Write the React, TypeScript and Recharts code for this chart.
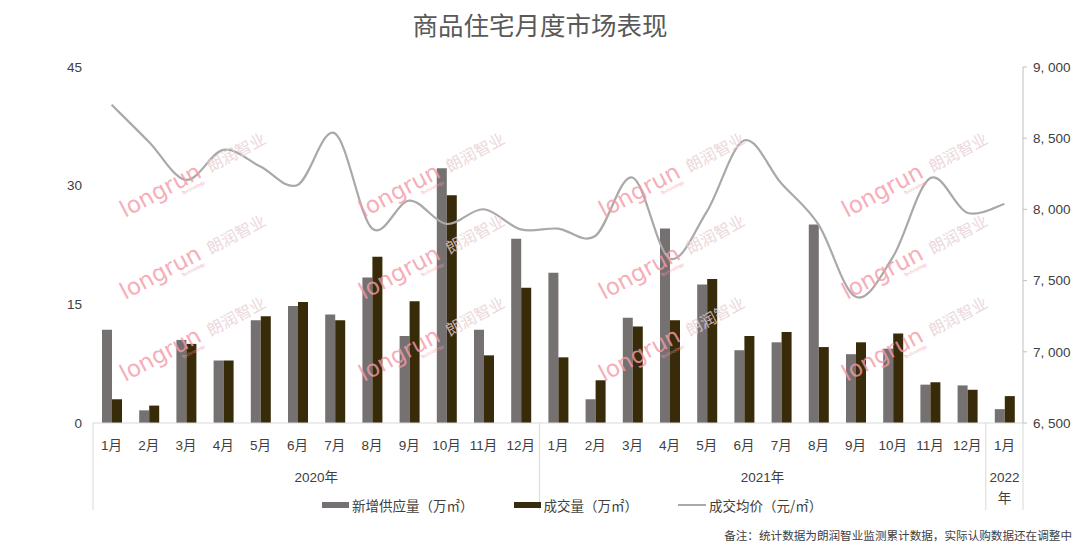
import React from 'react';
import { ComposedChart, Bar, Line, XAxis, YAxis, Legend } from 'recharts';

// ---------- data ----------
const categories = [
  '1月', '2月', '3月', '4月', '5月', '6月', '7月', '8月', '9月', '10月', '11月', '12月',
  '1月', '2月', '3月', '4月', '5月', '6月', '7月', '8月', '9月', '10月', '11月', '12月',
  '1月',
];
const yearGroups = [
  { label: ['2020年'], span: 12 },
  { label: ['2021年'], span: 12 },
  { label: ['2022', '年'], span: 1 },
];
const supply = [
  11.8, 1.6, 10.5, 7.9, 13.0, 14.8, 13.7, 18.4, 11.0, 32.2, 11.8, 23.3,
  19.0, 3.0, 13.3, 24.6, 17.5, 9.2, 10.2, 25.1, 8.7, 9.4, 4.85, 4.75,
  1.75,
];
const deals = [
  3.0, 2.2, 10.0, 7.9, 13.5, 15.3, 13.0, 21.0, 15.4, 28.8, 8.55, 17.1,
  8.3, 5.4, 12.2, 13.0, 18.2, 11.0, 11.5, 9.6, 10.2, 11.3, 5.15, 4.2,
  3.4,
];
const prices = [
  8735, 8475, 8207, 8418, 8301, 8172, 8535, 7867, 8062, 7898, 8001, 7860,
  7865, 7813, 8224, 7656, 7984, 8484, 8184, 7895, 7386, 7665, 8219, 7977,
  8038,
];
const leftTicks = [0, 15, 30, 45];
const rightTicks = [6500, 7000, 7500, 8000, 8500, 9000];
const seriesNames = ['新增供应量（万㎡）', '成交量（万㎡）', '成交均价（元/㎡）'];
const titleText = '商品住宅月度市场表现';
const noteText = '备注：统计数据为朗润智业监测累计数据，实际认购数据还在调整中';

const data = categories.map((m, i) => ({
  key: i,
  month: m,
  supply: supply[i],
  deal: deals[i],
  price: prices[i],
}));

// ---------- layout ----------
const W = 1080;
const H = 547;
const M_LEFT = 53;
const LEFT_W = 40;
const RIGHT_W = 57;
const M_TOP = 67;
const X_H = 124;
const PLOT_L = M_LEFT + LEFT_W;
const PLOT_R = W - RIGHT_W;
const PLOT_B = H - X_H;
const BAND = (PLOT_R - PLOT_L) / categories.length;

const FONT = "'Liberation Sans', 'Noto Sans CJK SC', sans-serif";
const CJK = "'Noto Sans CJK SC', 'Liberation Sans', sans-serif";
const GRAY = '#767171';
const DARK = '#372b09';
const LINEC = '#a9a9a9';
const SEP = '#d9d9d9';

// Catmull-Rom style smoothing (like spreadsheet smoothed lines)
function smoothCurve(context: any) {
  let pts: number[][] = [];
  return {
    areaStart() {},
    areaEnd() {},
    lineStart() {
      pts = [];
    },
    point(x: number, y: number) {
      pts.push([+x, +y]);
    },
    lineEnd() {
      const n = pts.length;
      if (!n) return;
      context.moveTo(pts[0][0], pts[0][1]);
      if (n === 1) return;
      if (n === 2) {
        context.lineTo(pts[1][0], pts[1][1]);
        return;
      }
      for (let i = 0; i < n - 1; i++) {
        const p0 = pts[i - 1] || pts[i];
        const p1 = pts[i];
        const p2 = pts[i + 1];
        const p3 = pts[i + 2] || pts[i + 1];
        const c1x = p1[0] + (p2[0] - p0[0]) / 6;
        const c1y = p1[1] + (p2[1] - p0[1]) / 6;
        const c2x = p2[0] - (p3[0] - p1[0]) / 6;
        const c2y = p2[1] - (p3[1] - p1[1]) / 6;
        context.bezierCurveTo(c1x, c1y, c2x, c2y, p2[0], p2[1]);
      }
    },
  };
}

const groupStarts: { start: number; g: (typeof yearGroups)[number] }[] = [];
{
  let s = 0;
  yearGroups.forEach((g) => {
    groupStarts.push({ start: s, g });
    s += g.span;
  });
}

const MonthTick = (props: any) => {
  const { x, payload } = props;
  const idx = Number(payload.value);
  const left = x - BAND / 2;
  const group = groupStarts.find((gs) => gs.start === idx);
  return (
    <g>
      <text
        x={x}
        y={PLOT_B + 22}
        textAnchor="middle"
        dominantBaseline="central"
        fontSize={13.5}
        fill="#404040"
        fontFamily={FONT}
      >
        {categories[idx]}
      </text>
      {idx === 0 && <line x1={left} x2={left} y1={PLOT_B} y2={PLOT_B + 87} stroke={SEP} />}
      {group && (
        <g>
          <line
            x1={left + group.g.span * BAND}
            x2={left + group.g.span * BAND}
            y1={PLOT_B}
            y2={PLOT_B + 87}
            stroke={SEP}
          />
          {group.g.label.map((t, k) => (
            <text
              key={k}
              x={left + (group.g.span * BAND) / 2}
              y={PLOT_B + 54 + k * 21}
              textAnchor="middle"
              dominantBaseline="central"
              fontSize={13.5}
              fill="#404040"
              fontFamily={FONT}
            >
              {t}
            </text>
          ))}
        </g>
      )}
    </g>
  );
};

const fmtPrice = (v: number) => `${Math.floor(v / 1000)}, ${String(v % 1000).padStart(3, '0')}`;

const LegendContent = () => {
  const item = (swatch: React.ReactNode, label: string, ml: number) => (
    <div style={{ display: 'flex', alignItems: 'center', marginLeft: ml }}>
      {swatch}
      <span style={{ marginLeft: 3, fontSize: 13.5, color: '#404040', fontFamily: CJK, whiteSpace: 'nowrap' }}>
        {label}
      </span>
    </div>
  );
  return (
    <div style={{ display: 'flex', alignItems: 'center', height: 22 }}>
      {item(<div style={{ width: 27, height: 6, background: GRAY }} />, seriesNames[0], 322)}
      {item(<div style={{ width: 27, height: 6, background: DARK }} />, seriesNames[1], 40)}
      {item(<div style={{ width: 28, height: 2, background: LINEC }} />, seriesNames[2], 40)}
    </div>
  );
};

// watermark layout
const wmCols = [125, 364, 604, 847];
const wmRows = [218, 300, 382];

const Watermark = ({ x, y }: { x: number; y: number }) => (
  <g transform={`translate(${x},${y}) rotate(-28)`} opacity={0.8}>
    <text x={0} y={0} fontSize={23} fill="#f59aa8" fontFamily="'DejaVu Sans', sans-serif">
      longrun
    </text>
    <text x={62} y={7} fontSize={4.5} fill="#f59aa8" fontFamily="'DejaVu Sans', sans-serif">
      Technology
    </text>
    <text x={97} y={0} fontSize={16} fill="#e7cfd3" fontFamily={CJK}>
      朗润智业
    </text>
  </g>
);

export default function App() {
  return (
    <div style={{ position: 'absolute', left: 0, top: 0, width: W, height: H, background: '#fff' }}>
      <ComposedChart
        width={W}
        height={H}
        data={data}
        margin={{ top: M_TOP, right: 0, bottom: 0, left: M_LEFT }}
        barGap={0}
        barSize={10}
      >
        <XAxis
          dataKey="key"
          type="category"
          interval={0}
          tickLine={false}
          axisLine={{ stroke: SEP }}
          height={X_H}
          tick={<MonthTick />}
        />
        <YAxis
          yAxisId="left"
          orientation="left"
          width={LEFT_W}
          domain={[0, 45]}
          ticks={leftTicks}
          axisLine={false}
          tickLine={false}
          tickSize={9}
          tickMargin={2}
          tick={{ fontSize: 13.5, fill: '#404040', fontFamily: FONT }}
        />
        <YAxis
          yAxisId="right"
          orientation="right"
          width={RIGHT_W}
          domain={[6500, 9000]}
          ticks={rightTicks}
          axisLine={{ stroke: '#bfbfbf' }}
          tickLine={{ stroke: '#bfbfbf' }}
          tickSize={4}
          tickMargin={6}
          tickFormatter={fmtPrice}
          tick={{ fontSize: 13.5, fill: '#404040', fontFamily: FONT }}
        />
        <Legend
          verticalAlign="middle"
          layout="horizontal"
          content={<LegendContent />}
          wrapperStyle={{ top: 494, left: 0, width: W, height: 22 }}
        />
        <Bar yAxisId="left" dataKey="supply" name={seriesNames[0]} fill={GRAY} isAnimationActive={false} />
        <Bar yAxisId="left" dataKey="deal" name={seriesNames[1]} fill={DARK} isAnimationActive={false} />
        <Line
          yAxisId="right"
          dataKey="price"
          name={seriesNames[2]}
          type={smoothCurve as any}
          stroke={LINEC}
          strokeWidth={2.2}
          dot={false}
          activeDot={false}
          isAnimationActive={false}
        />
      </ComposedChart>
      <svg
        width={W}
        height={H}
        style={{ position: 'absolute', left: 0, top: 0, pointerEvents: 'none' }}
      >
        <text
          x={W / 2}
          y={23}
          textAnchor="middle"
          dominantBaseline="central"
          fontSize={25.5}
          fill="#595959"
          fontFamily={CJK}
        >
          {titleText}
        </text>
        {wmCols.map((cx) => wmRows.map((cy) => <Watermark key={`${cx}-${cy}`} x={cx} y={cy} />))}
        <text
          x={1072}
          y={535}
          textAnchor="end"
          dominantBaseline="central"
          fontSize={11.6}
          fill="#404040"
          fontFamily={CJK}
        >
          {noteText}
        </text>
      </svg>
    </div>
  );
}
